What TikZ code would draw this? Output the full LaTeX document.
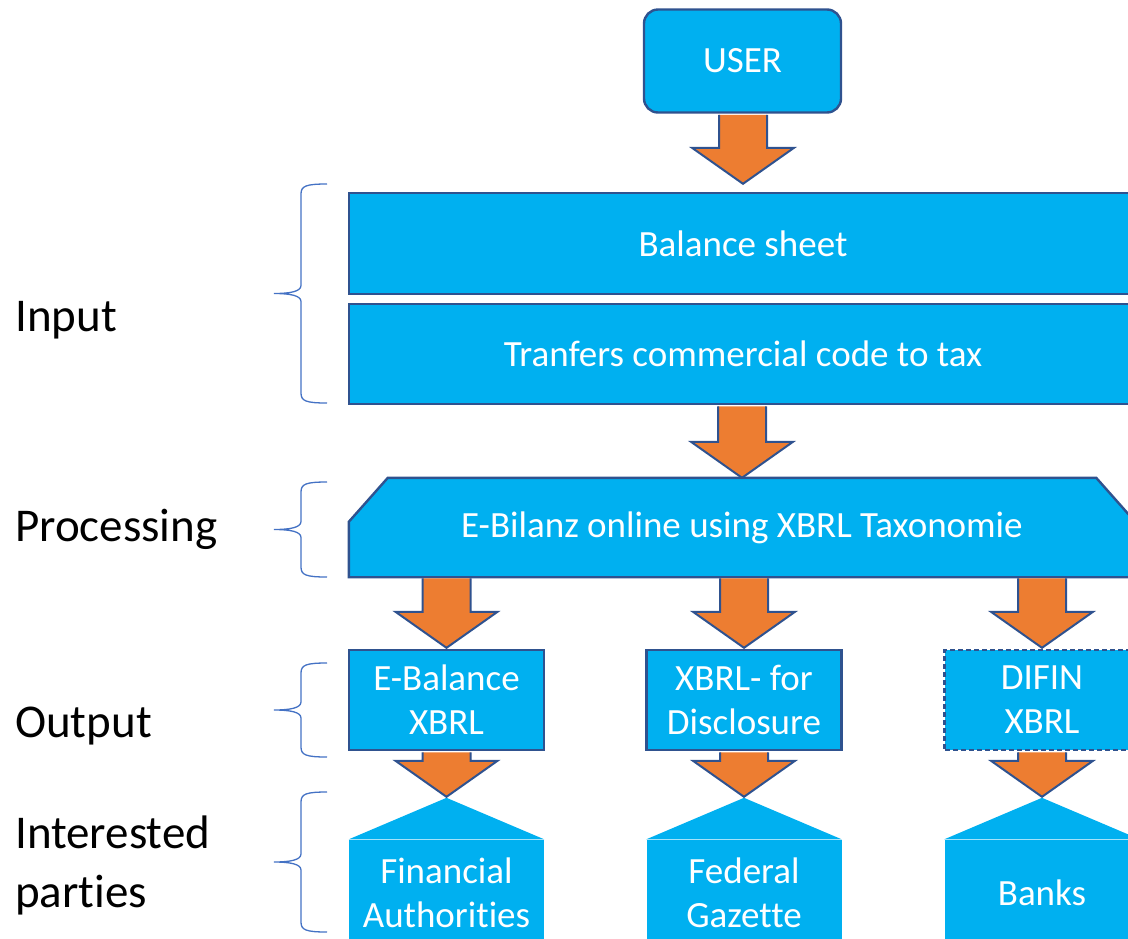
\documentclass[tikz,border=0pt]{standalone}
\usepackage{fontspec}
\setmainfont{Carlito}[Ligatures=CommonOff]
\usetikzlibrary{positioning, calc, backgrounds}

\definecolor{boxfill}{HTML}{00B0F0}
\definecolor{boxline}{HTML}{2F528F}
\definecolor{arrowfill}{HTML}{ED7D31}
\definecolor{bracecol}{HTML}{4472C4}

% block arrow from the bottom of one shape down to a tip
\newcommand{\bigarrow}[2]{%
  \filldraw[arrowbody] let \p1=(#1), \p2=(#2) in
    (\x2-24pt,\y1-1.2pt) -- (\x2-24pt,\y2+36pt) -- (\x2-51pt,\y2+36pt) -- (\x2,\y2)
    -- (\x2+51pt,\y2+36pt) -- (\x2+24pt,\y2+36pt) -- (\x2+24pt,\y1-1.2pt);}

% curly bracket on the left, from top to bottom
\newcommand{\sidebrace}[2]{%
  \draw[bracket] (327,#1) .. controls (306,#1) and (301,{#1+2}) .. (301,{#1+10})
    -- (301,{(#1+#2)/2-8}) .. controls (301,{(#1+#2)/2-2}) and (290,{(#1+#2)/2}) .. (274,{(#1+#2)/2})
    .. controls (290,{(#1+#2)/2}) and (301,{(#1+#2)/2+2}) .. (301,{(#1+#2)/2+8})
    -- (301,{#2-10}) .. controls (301,{#2-2}) and (306,#2) .. (327,#2);}

\begin{document}
\begin{tikzpicture}[
    x=1pt, y=-1pt,
    flowbox/.style = {draw=boxline, line width=2.4pt, fill=boxfill, text=white, align=center,
                      inner sep=0pt, font=\fontsize{37}{44}\selectfont},
    dashbox/.style = {flowbox, dash pattern=on 5pt off 3pt},
    snipbox/.style = {draw=boxline, line width=2.4pt, fill=boxfill},
    party/.style   = {fill=boxfill, text=white, align=center, inner sep=0pt,
                      minimum width=195pt, minimum height=105pt, font=\fontsize{37}{44}\selectfont},
    arrowbody/.style = {fill=arrowfill, draw=boxline, line width=2pt, line join=miter},
    stage/.style   = {anchor=base west, inner sep=0pt, align=left, font=\fontsize{47}{59}\selectfont},
    bracket/.style = {draw=bracecol, line width=1.3pt},
  ]
  \useasboundingbox (0,0) rectangle (1128,938);
  \clip (0,0) rectangle (1128,938);

  \node[flowbox, rounded corners=14pt, minimum width=197pt, minimum height=103pt] (user) at (742.5,61) {USER};
  \node[flowbox, minimum width=788pt, minimum height=101pt] (bal) at (743,243.5) {Balance sheet};
  \node[flowbox, minimum width=788pt, minimum height=100pt] (tran) at (743,354) {Tranfers commercial code to tax};
  \node[text=white, inner sep=0pt, minimum width=786pt, minimum height=99pt,
        font=\fontsize{37}{44}\selectfont] (proc) at (742,527.5) {E-Bilanz online using XBRL Taxonomie};
  \begin{scope}[on background layer]
    \filldraw[snipbox] (proc.south west) -- ([yshift=-44pt]proc.north west) -- ([xshift=39pt]proc.north west)
      -- ([xshift=-39pt]proc.north east) -- ([yshift=-44pt]proc.north east) -- (proc.south east) -- cycle;
  \end{scope}

  \node[flowbox, minimum width=195pt, minimum height=100pt] (ebal) at (446.5,700) {E-Balance\\XBRL};
  \node[flowbox, minimum width=195pt, minimum height=100pt] (disc) at (744,700) {XBRL- for\\Disclosure};
  \node[dashbox, minimum width=195pt, minimum height=100pt] (difin) at (1042,700) {DIFIN\\XBRL};

  \node[party] (fin) at (446.5,892.5) {Financial\\Authorities};
  \node[party] (gaz) at (744,892.5) {Federal\\Gazette};
  \node[party] (bank) at (1042,892.5) {Banks};
  \foreach \p in {fin, gaz, bank}
    \fill[boxfill] ([yshift=0.5pt]\p.north west) -- ([yshift=42pt]\p.north) -- ([yshift=0.5pt]\p.north east) -- cycle;

  \bigarrow{user.south}{[yshift=8pt]bal.north}
  \bigarrow{tran.south}{proc.north}
  \bigarrow{proc.south}{[yshift=1pt]ebal.north}
  \bigarrow{proc.south}{[yshift=1pt]disc.north}
  \bigarrow{proc.south}{[yshift=1pt]difin.north}
  \bigarrow{ebal.south}{[yshift=43pt]fin.north}
  \bigarrow{disc.south}{[yshift=43pt]gaz.north}
  \bigarrow{difin.south}{[yshift=43pt]bank.north}

  \node[stage] (inlab) at (15,331) {Input};
  \node[stage] (proclab) at (15,541) {Processing};
  \node[stage] (outlab) at (15,737) {Output};
  \node[stage] (partlab) at (15,907) {Interested\\parties};

  \sidebrace{184}{403}
  \sidebrace{482}{577}
  \sidebrace{663}{757}
  \sidebrace{792}{932}
\end{tikzpicture}
\end{document}
